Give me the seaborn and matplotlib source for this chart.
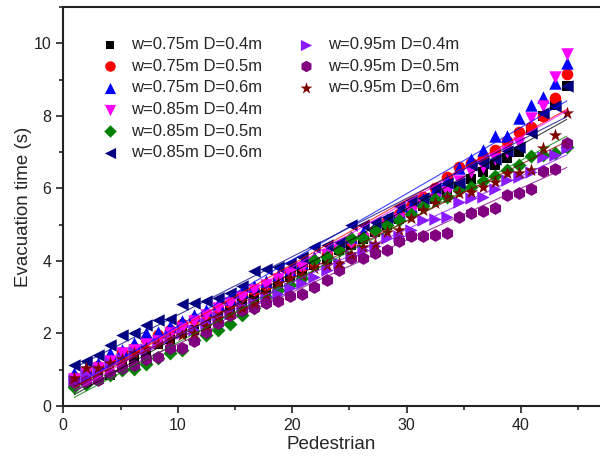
import matplotlib
matplotlib.use("Agg")
import matplotlib.pyplot as plt
import seaborn as sns
import pandas as pd
from matplotlib.ticker import MultipleLocator
from matplotlib.lines import Line2D

# positions of the 42 pedestrians as read along the x axis
pedestrian = [0.95, 2.0, 3.05, 4.1, 5.15, 6.2, 7.25, 8.3, 9.35, 10.4, 11.45, 12.5,
              13.55, 14.6, 15.65, 16.7, 17.75, 18.8, 19.85, 20.9, 21.95, 23.0, 24.05,
              25.1, 26.15, 27.2, 28.25, 29.3, 30.35, 31.4, 32.45, 33.5, 34.55, 35.6,
              36.65, 37.7, 38.75, 39.8, 40.85, 41.9, 42.95, 44.0]

labels = ["w=0.75m D=0.4m", "w=0.75m D=0.5m", "w=0.75m D=0.6m",
          "w=0.85m D=0.4m", "w=0.85m D=0.5m", "w=0.85m D=0.6m",
          "w=0.95m D=0.4m", "w=0.95m D=0.5m", "w=0.95m D=0.6m"]

w075_d04 = [0.70, 0.80, 0.95, 0.85, 1.20, 1.35, 1.50, 1.70, 1.85, 2.00, 2.10, 2.30, 2.45, 2.65,
            2.80, 2.95, 3.15, 3.30, 3.55, 3.70, 3.90, 4.05, 4.30, 4.45, 4.60, 4.80, 5.00, 5.15,
            5.35, 5.50, 5.70, 5.85, 6.05, 6.25, 6.45, 6.65, 6.85, 7.00, 7.60, 8.00, 8.30, 8.82]
w075_d05 = [0.80, 0.95, 1.10, 1.30, 1.50, 1.60, 1.85, 1.95, 2.10, 2.25, 2.40, 2.55, 2.70, 2.85,
            3.05, 3.20, 3.35, 3.50, 3.70, 3.85, 4.00, 4.20, 4.35, 4.55, 4.70, 4.85, 5.10, 5.30,
            5.50, 5.75, 6.00, 6.30, 6.60, 6.70, 6.85, 7.05, 7.30, 7.56, 7.70, 8.00, 8.48, 9.15]
w075_d06 = [0.90, 1.05, 1.20, 1.45, 1.55, 1.73, 2.00, 2.05, 2.20, 2.35, 2.50, 2.65, 2.80, 2.95,
            3.15, 3.30, 3.45, 3.60, 3.75, 3.95, 4.10, 4.25, 4.45, 4.65, 4.80, 5.00, 5.15, 5.35,
            5.50, 5.70, 5.96, 6.23, 6.55, 6.80, 7.06, 7.45, 7.43, 7.93, 8.30, 8.52, 8.90, 9.46]
w085_d04 = [0.75, 0.90, 1.05, 1.25, 1.45, 1.55, 1.70, 1.80, 2.00, 2.15, 2.35, 2.50, 2.70, 2.85,
            3.00, 3.20, 3.35, 3.50, 3.65, 3.80, 3.95, 4.15, 4.30, 4.50, 4.60, 4.75, 4.95, 5.15,
            5.35, 5.55, 5.70, 5.90, 6.20, 6.46, 6.60, 6.80, 7.00, 7.25, 7.93, 8.26, 9.07, 9.70]
w085_d05 = [0.52, 0.60, 0.75, 0.85, 0.99, 1.03, 1.15, 1.33, 1.45, 1.55, 1.82, 1.96, 2.10, 2.25,
            2.50, 2.70, 3.00, 3.20, 3.35, 3.52, 4.03, 4.12, 4.30, 4.62, 4.62, 4.85, 4.99, 5.13,
            5.30, 5.50, 5.72, 5.77, 5.95, 6.05, 6.20, 6.34, 6.50, 6.65, 6.89, 6.92, 6.98, 7.15]
w085_d06 = [1.13, 1.25, 1.41, 1.68, 1.96, 2.00, 2.23, 2.37, 2.39, 2.81, 2.85, 2.90, 2.97, 3.12,
            3.31, 3.73, 3.77, 3.82, 3.95, 4.12, 4.39, 4.43, 4.53, 4.99, 4.99, 5.08, 5.22, 5.50,
            5.68, 5.73, 6.00, 6.14, 6.14, 6.64, 6.69, 6.80, 7.03, 7.15, 7.52, 8.07, 8.26, 8.82]
w095_d04 = [0.72, 0.85, 1.00, 1.20, 1.30, 1.50, 1.58, 1.75, 1.90, 2.00, 2.10, 2.30, 2.45, 2.55,
            2.75, 2.85, 3.00, 3.10, 3.25, 3.40, 3.55, 3.75, 3.95, 4.15, 4.30, 4.40, 4.62, 4.70,
            4.85, 5.13, 5.15, 5.22, 5.63, 5.73, 5.77, 5.97, 6.23, 6.32, 6.45, 6.87, 6.92, 7.10]
w095_d05 = [0.67, 0.68, 0.72, 0.90, 1.04, 1.13, 1.31, 1.36, 1.59, 1.60, 1.80, 2.05, 2.30, 2.50,
            2.65, 2.69, 2.84, 2.90, 3.03, 3.10, 3.29, 3.47, 3.75, 4.07, 4.07, 4.21, 4.30, 4.56,
            4.69, 4.69, 4.71, 4.78, 5.22, 5.33, 5.38, 5.45, 5.82, 5.86, 5.97, 6.49, 6.53, 7.24]
w095_d06 = [0.76, 1.04, 1.06, 1.18, 1.30, 1.45, 1.60, 1.72, 1.85, 1.96, 2.00, 2.20, 2.42, 2.55,
            2.70, 2.85, 3.10, 3.38, 3.52, 3.60, 3.80, 3.89, 3.93, 4.20, 4.39, 4.48, 4.81, 4.85,
            5.17, 5.40, 5.60, 5.77, 5.88, 5.91, 6.05, 6.18, 6.42, 6.43, 6.51, 7.10, 7.47, 8.07]

series = [w075_d04, w075_d05, w075_d06, w085_d04, w085_d05, w085_d06,
          w095_d04, w095_d05, w095_d06]

colors = ["#000000", "#FF0000", "#0000FF", "#FF00FF", "#008000", "#000080",
          "#8B1AFF", "#800080", "#800000"]
markers = ["s", "o", "^", "v", "D", "<", ">", "h", "*"]
sizes = [50, 70, 80, 80, 50, 80, 80, 85, 100]

sns.set_style("ticks")
plt.rcParams["font.family"] = ["Liberation Sans", "DejaVu Sans"]

fig = plt.figure(figsize=(6.0, 4.63), dpi=100)
ax = fig.add_axes([0.1055, 0.123, 0.8945, 0.862])

for lab, vals, col, mk, sz in zip(labels, series, colors, markers, sizes):
    df = pd.DataFrame({"Pedestrian": pedestrian, "Evacuation time (s)": vals})
    sns.scatterplot(data=df, x="Pedestrian", y="Evacuation time (s)", ax=ax,
                    color=col, marker=mk, s=sz, linewidth=0, label=lab, zorder=3)

for vals, col in zip(series, colors):
    df = pd.DataFrame({"Pedestrian": pedestrian, "Evacuation time (s)": vals})
    sns.regplot(data=df, x="Pedestrian", y="Evacuation time (s)", ax=ax,
                scatter=False, ci=None, color=col,
                line_kws={"linewidth": 0.8, "alpha": 0.75, "zorder": 4})

ax.set_xlim(0, 46.9)
ax.set_ylim(0, 11)
ax.xaxis.set_major_locator(MultipleLocator(10))
ax.xaxis.set_minor_locator(MultipleLocator(5))
ax.yaxis.set_major_locator(MultipleLocator(2))
ax.yaxis.set_minor_locator(MultipleLocator(1))
ax.tick_params(which="major", direction="out", length=5, width=1.2, labelsize=11.5,
               colors="#222222")
ax.tick_params(which="minor", direction="out", length=3, width=1.2)
for side in ["left", "bottom", "top"]:
    ax.spines[side].set_visible(True)
    ax.spines[side].set_linewidth(1.5)
    ax.spines[side].set_color("#222222")
ax.spines["right"].set_visible(False)

ax.set_xlabel("Pedestrian", fontsize=13.5, labelpad=2)
ax.set_ylabel("Evacuation time (s)", fontsize=13.5, labelpad=1)

handles, labs = ax.get_legend_handles_labels()
blank = Line2D([], [], linestyle="none", marker=None)
handles = handles[:9] + [blank] * 3
labs = labs[:9] + [""] * 3
ax.legend(handles, labs, ncol=2, loc="upper left", bbox_to_anchor=(0.04, 0.962),
          frameon=False, fontsize=12, handletextpad=0.7, columnspacing=2.0,
          labelspacing=0.4, handlelength=1.2, markerscale=0.9)

fig.savefig("out.png", dpi=100)
